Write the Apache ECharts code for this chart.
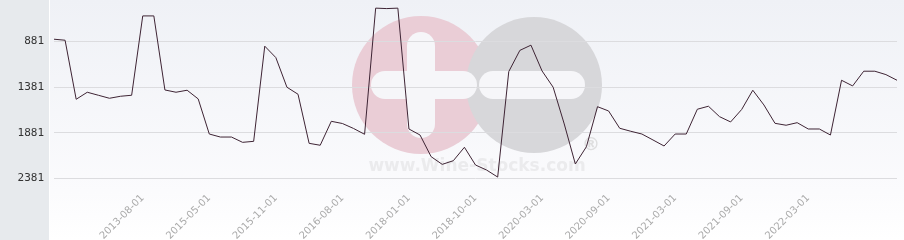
<!DOCTYPE html>
<html>
<head>
<meta charset="utf-8">
<script src="https://cdn.jsdelivr.net/npm/echarts@6/dist/echarts.min.js"></script>
<style>
html,body{margin:0;padding:0;background:#fff;}
#chart{width:904px;height:240px;}
</style>
</head>
<body>
<div id="chart"></div>
<script>
// ---- data ----
var dates = [
  '2012-12-01','2013-01-01','2013-02-01','2013-03-01','2013-04-01','2013-05-01','2013-06-01','2013-07-01',
  '2013-08-01','2013-09-01','2013-10-01','2014-01-01','2014-06-01','2014-11-01',
  '2015-05-01','2015-06-01','2015-07-01','2015-08-01','2015-09-01','2015-10-01',
  '2015-11-01','2015-12-01','2016-02-01','2016-04-01','2016-06-01','2016-07-01',
  '2016-08-01','2016-09-01','2016-11-01','2017-03-01','2017-07-01','2017-11-01',
  '2018-01-01','2018-02-01','2018-04-01','2018-05-01','2018-07-01','2018-09-01',
  '2018-10-01','2018-12-01','2019-03-01','2019-06-01','2019-09-01','2019-12-01',
  '2020-03-01','2020-04-01','2020-05-01','2020-06-01','2020-07-01','2020-08-01',
  '2020-09-01','2020-10-01','2020-11-01','2020-12-01','2021-01-01','2021-02-01',
  '2021-03-01','2021-04-01','2021-05-01','2021-06-01','2021-07-01','2021-08-01',
  '2021-09-01','2021-10-01','2021-11-01','2021-12-01','2022-01-01','2022-02-01',
  '2022-03-01','2022-04-01','2022-05-01','2022-06-01','2022-07-01','2022-08-01',
  '2022-09-01','2022-10-01','2022-11-01'
];
var ranks = [
  859, 870, 1516, 1439, 1472, 1505, 1483, 1472,
  604, 604, 1414, 1439, 1417, 1512,
  1896, 1929, 1929, 1987, 1976, 935,
  1060, 1384, 1461, 1998, 2019, 1757,
  1781, 1835, 1899, 519, 524, 519,
  1841, 1907, 2144, 2228, 2188, 2041,
  2235, 2290, 2367, 1213, 981, 924,
  1206, 1384, 1786, 2224, 2035, 1597,
  1644, 1833, 1866, 1896, 1961, 2027,
  1896, 1896, 1625, 1592, 1706, 1764,
  1627, 1417, 1578, 1779, 1800, 1772,
  1841, 1841, 1907, 1308, 1370, 1209,
  1209, 1246, 1308
];
var yTicks = [881, 1381, 1881, 2381];
var labelDates = ['2013-08-01','2015-05-01','2015-11-01','2016-08-01','2018-01-01','2018-10-01',
  '2020-03-01','2020-09-01','2021-03-01','2021-09-01','2022-03-01'];

var chart = echarts.init(document.getElementById('chart'), null, {renderer: 'canvas'});
var option = {
  animation: false,
  graphic: [
    {type: 'rect', z: -100, silent: true, shape: {x: 0, y: 0, width: 49, height: 240}, style: {fill: '#e7eaed'}},
    {type: 'rect', z: -100, silent: true, shape: {x: 50, y: 0, width: 854, height: 240},
      style: {fill: new echarts.graphic.LinearGradient(0, 0, 0, 1, [
        {offset: 0, color: '#eff1f6'}, {offset: 0.8, color: '#fbfbfd'}, {offset: 1, color: '#ffffff'}])}},
    {type: 'circle', z: -90, silent: true, shape: {cx: 421, cy: 85, r: 69}, style: {fill: '#eacdd6'}},
    {type: 'circle', z: -89, silent: true, shape: {cx: 534, cy: 85, r: 68}, style: {fill: '#d7d7da'}},
    {type: 'rect', z: -80, silent: true, shape: {x: 407, y: 32, width: 28, height: 106, r: 14}, style: {fill: '#f6f6f9'}},
    {type: 'rect', z: -80, silent: true, shape: {x: 371, y: 71, width: 106, height: 28, r: 14}, style: {fill: '#f6f6f9'}},
    {type: 'rect', z: -80, silent: true, shape: {x: 479, y: 71, width: 106, height: 28, r: 14}, style: {fill: '#f6f6f9'}},
    {type: 'text', z: -80, silent: true, style: {x: 477, y: 167, text: 'www.Wine-Stocks.com', align: 'center', verticalAlign: 'middle',
      font: 'bold 17px "DejaVu Sans", sans-serif', fill: '#ebebed'}},
    {type: 'text', z: -80, silent: true, style: {x: 591, y: 145, text: '®', align: 'center', verticalAlign: 'middle',
      font: 'bold 18px "DejaVu Sans", sans-serif', fill: '#dededf'}}
  ],
  grid: {left: 54, right: 7, top: 0, bottom: 51.5, containLabel: false, outerBoundsMode: 'none'},
  xAxis: {
    type: 'category',
    data: dates,
    boundaryGap: false,
    axisLine: {show: false},
    axisTick: {show: false},
    splitLine: {show: false},
    axisLabel: {
      rotate: 45,
      margin: 8,
      color: '#aaaaaa',
      fontSize: 10,
      fontFamily: '"DejaVu Sans", sans-serif',
      interval: function (idx, val) { return labelDates.indexOf(val) >= 0; }
    }
  },
  yAxis: {
    type: 'value',
    inverse: true,
    min: 430,
    max: 2492,
    axisLine: {show: false},
    axisTick: {show: false, customValues: yTicks},
    axisLabel: {
      customValues: yTicks,
      margin: 10,
      color: '#333333',
      fontSize: 11,
      fontFamily: '"DejaVu Sans Mono", monospace',
      formatter: function (v) { return String(v); }
    },
    splitLine: {show: true, lineStyle: {color: '#dcdcdf', width: 1}}
  },
  series: [{
    type: 'line',
    data: ranks,
    symbol: 'none',
    smooth: false,
    lineStyle: {color: '#3e2434', width: 1},
    z: 5
  }]
};
chart.setOption(option);
</script>
</body>
</html>
